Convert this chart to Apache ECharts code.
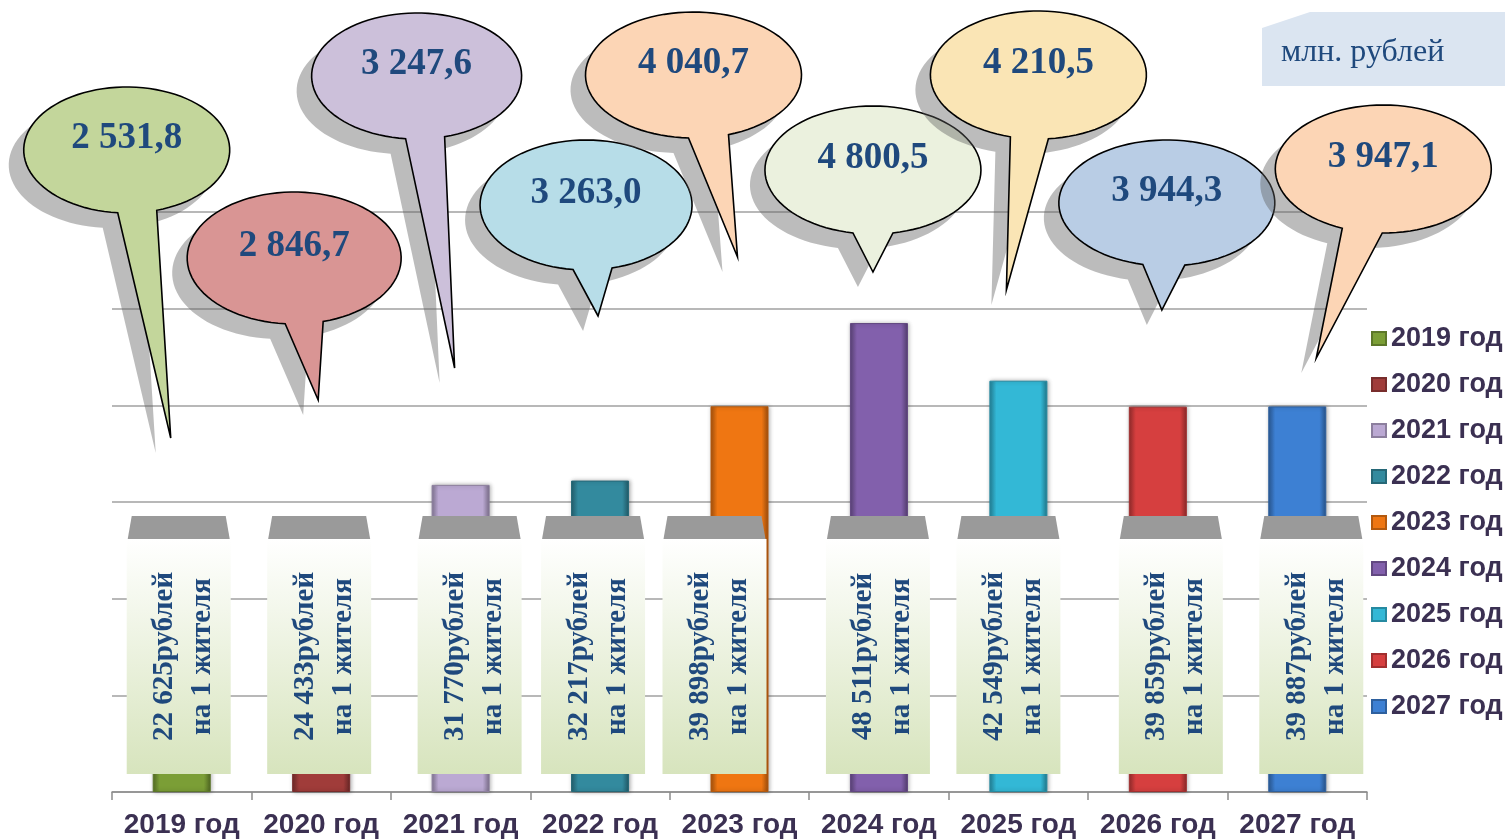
<!DOCTYPE html>
<html>
<head>
<meta charset="utf-8">
<script src="https://cdn.jsdelivr.net/npm/echarts@6/dist/echarts.min.js"></script>
<style>
  html, body { margin: 0; padding: 0; background: #fff; }
  #chart { width: 1505px; height: 839px; }
</style>
</head>
<body>
<div id="chart"></div>
<script>
// данные
const years = ['2019 год', '2020 год', '2021 год', '2022 год', '2023 год', '2024 год', '2025 год', '2026 год', '2027 год'];
const perCapita = [22625, 24433, 31770, 32217, 39898, 48511, 42549, 39859, 39887]; // рублей на 1 жителя
const totals = [2531.8, 2846.7, 3247.6, 3263.0, 4040.7, 4800.5, 4210.5, 3944.3, 3947.1]; // млн. рублей
const yMin = 0, yMax = 60000, yStep = 10000;

const barColors = ['#7b9e36', '#a03c3a', '#bba9d3', '#338a9e', '#ef7612', '#8260ac', '#33b8d6', '#d63f3f', '#3d80d3'];
const bubbleColors = ['#c3d69b', '#d99594', '#ccc0da', '#b7dde8', '#fcd5b5', '#ebf1de', '#fae5b5', '#b9cde5', '#fcd5b5'];

// раскладка выносок: [dx центра, cy, rx, ry, левое основание хвоста, правое основание, dx острия, y острия]
const bubbleLayout = [
  [-55, 150, 103, 63, -64, -25, -11, 438],
  [-27, 258, 107, 66, -36, 2, -3, 400],
  [-44, 76, 105, 63, -55, -16, -6, 368],
  [-14, 205, 106, 65, -27, 12, -2, 316],
  [-46, 75, 108, 63, -51, -11, -2, 257],
  [-6, 170, 108, 64, -26, 14, -6, 272],
  [20, 75, 108, 64, -8, 30, -12, 290],
  [9, 203, 108, 63, -15, 27, 4, 310],
  [86, 169, 108, 64, 45, 85, 19, 358]
];
// сдвиг подписей "на 1 жителя" относительно центра категории
const boxShift = [-3, -2, 9, -7, -25, -1, -10, 13, 14];

function fmtInt(v) {
  return String(v).replace(/\B(?=(\d{3})+(?!\d))/g, ' ');
}
function fmtMln(v) {
  const parts = v.toFixed(1).split('.');
  return fmtInt(parts[0]) + ',' + parts[1];
}

function shade(hex, k) {
  const n = parseInt(hex.slice(1), 16);
  let r = (n >> 16) & 255, g = (n >> 8) & 255, b = n & 255;
  const f = c => Math.max(0, Math.min(255, Math.round(k < 0 ? c * (1 + k) : c + (255 - c) * k)));
  return 'rgb(' + f(r) + ',' + f(g) + ',' + f(b) + ')';
}

function bubblePoints(cx, cy, rx, ry, bl, br, tx, ty) {
  const ta = Math.acos(Math.max(-1, Math.min(1, (bl - cx) / rx)));
  const tb = Math.acos(Math.max(-1, Math.min(1, (br - cx) / rx)));
  const pts = [[tx, ty]];
  const N = 90;
  for (let k = 0; k <= N; k++) {
    const t = ta + (tb + 2 * Math.PI - ta) * k / N;
    pts.push([cx + rx * Math.cos(t), cy + ry * Math.sin(t)]);
  }
  return pts;
}

const barSeries = years.map(function (name, i) {
  const c = barColors[i];
  return {
    name: name,
    type: 'bar',
    stack: 'all',
    barWidth: 58,
    z: 2,
    itemStyle: {
      color: new echarts.graphic.LinearGradient(0, 0, 1, 0, [
        { offset: 0, color: shade(c, -0.3) },
        { offset: 0.12, color: c },
        { offset: 0.88, color: c },
        { offset: 1, color: shade(c, -0.35) }
      ]),
      borderColor: shade(c, -0.25),
      borderWidth: 1,
      shadowBlur: 4,
      shadowColor: 'rgba(0,0,0,0.3)',
      shadowOffsetX: 1
    },
    data: perCapita.map((v, j) => (j === i ? v : null))
  };
});

const boxSeries = {
  type: 'custom',
  z: 5,
  silent: true,
  clip: false,
  data: perCapita.map((v, i) => [i, v]),
  renderItem: function (params, api) {
    const i = api.value(0);
    const base = api.coord([i, 0]);
    const cx = base[0] + boxShift[i];
    const axisY = base[1];
    const top = axisY - 253, bottom = axisY - 18;
    return {
      type: 'group',
      children: [
        {
          type: 'polygon',
          shape: { points: [[cx - 47, top - 23], [cx + 47, top - 23], [cx + 51, top], [cx - 51, top]] },
          style: { fill: '#9a9a9a' }
        },
        {
          type: 'rect',
          shape: { x: cx - 52, y: top, width: 104, height: bottom - top },
          style: {
            fill: new echarts.graphic.LinearGradient(0, 0, 0, 1, [
              { offset: 0, color: '#ffffff' },
              { offset: 1, color: '#d7e4bd' }
            ])
          }
        },
        {
          type: 'text',
          x: cx + 5,
          y: (top + bottom) / 2,
          rotation: Math.PI / 2,
          style: {
            text: fmtInt(api.value(1)) + 'рублей\nна 1 жителя',
            font: 'bold 29px "Liberation Serif"',
            fill: '#1f497d',
            align: 'center',
            verticalAlign: 'middle',
            lineHeight: 38
          }
        }
      ]
    };
  }
};

const bubbleSeries = {
  type: 'custom',
  z: 6,
  silent: true,
  clip: false,
  data: totals.map((v, i) => [i, 0, v]),
  renderItem: function (params, api) {
    const i = api.value(0);
    const c = api.coord([i, 0])[0];
    const L = bubbleLayout[i];
    const cx = c + L[0], cy = L[1];
    const pts = bubblePoints(cx, cy, L[2], L[3], c + L[4], c + L[5], c + L[6], L[7]);
    const shadowPts = pts.map(p => [p[0] - 15, p[1] + 15]);
    return {
      type: 'group',
      children: [
        { type: 'polygon', shape: { points: shadowPts }, style: { fill: 'rgba(95,95,95,0.42)' } },
        { type: 'polygon', shape: { points: pts }, style: { fill: bubbleColors[i], stroke: '#000', lineWidth: 1.6 } },
        {
          type: 'text',
          x: cx,
          y: cy - 12,
          style: {
            text: fmtMln(api.value(2)),
            font: 'bold 37px "Liberation Serif"',
            fill: '#1f497d',
            align: 'center',
            verticalAlign: 'middle'
          }
        }
      ]
    };
  }
};

const chart = echarts.init(document.getElementById('chart'));
chart.setOption({
  animation: false,
  backgroundColor: '#fff',
  grid: { left: 112, right: 138, top: 212, bottom: 46, containLabel: false },
  legend: {
    data: years,
    orient: 'vertical',
    left: 1366,
    top: 320,
    itemWidth: 14,
    itemHeight: 13,
    itemGap: 19,
    icon: 'rect',
    textStyle: { fontFamily: 'Liberation Sans', fontWeight: 'bold', fontSize: 27, lineHeight: 27, color: '#3b3052' }
  },
  xAxis: {
    type: 'category',
    data: years,
    axisLine: { lineStyle: { color: '#8c8c8c', width: 1.5 } },
    axisTick: { show: true, interval: 0, length: 8, lineStyle: { color: '#8c8c8c', width: 1.5 } },
    axisLabel: { interval: 0, margin: 19, fontFamily: 'Liberation Sans', fontWeight: 'bold', fontSize: 28, color: '#3b3052' }
  },
  yAxis: {
    type: 'value',
    min: yMin,
    max: yMax,
    interval: yStep,
    axisLine: { show: false },
    axisTick: { show: false },
    axisLabel: { show: false },
    splitLine: { lineStyle: { color: '#a0a0a0', width: 1.5 } }
  },
  graphic: [
    {
      type: 'polygon',
      shape: { points: [[1262, 28], [1310, 12], [1505, 12], [1505, 86], [1262, 86]] },
      style: { fill: '#dbe5f1' },
      z: 1
    },
    {
      type: 'text',
      x: 1281,
      y: 53,
      style: { text: 'млн. рублей', font: '32px "Liberation Serif"', fill: '#1f497d', verticalAlign: 'middle' },
      z: 2
    }
  ],
  series: barSeries.concat([boxSeries, bubbleSeries])
});
</script>
</body>
</html>
